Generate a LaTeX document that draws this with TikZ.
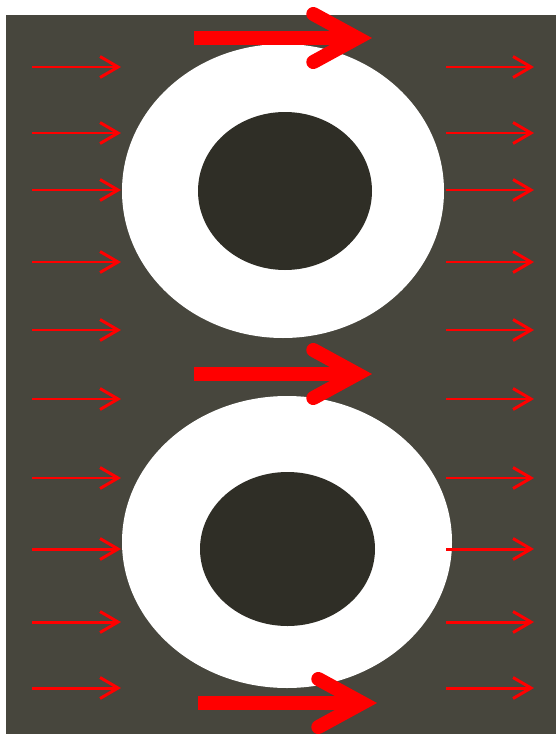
\documentclass[tikz,border=0pt]{standalone}
\usepackage{tikz}
\usetikzlibrary{arrows.meta}

\definecolor{flowbg}{RGB}{71,70,61}
\definecolor{coredark}{RGB}{47,46,38}

\begin{document}
\begin{tikzpicture}[x=0.02cm, y=-0.02cm,
    smallflow/.style={red, line width=1.7pt, -{Straight Barb[length=0.36cm, width=0.42cm]}},
    bigflow/.style={red, line width=8pt, -{Straight Barb[length=0.88cm, width=0.96cm, line cap=round, line join=miter]}}]
    \useasboundingbox (0,0) rectangle (556,734);

    % 背景
    \fill[flowbg] (6,15) rectangle (556,734);

    % 两个圆柱 (外圈白色, 内芯深色)
    \fill[white] (283,191) ellipse [x radius=161, y radius=147];
    \fill[coredark] (285,191) ellipse [x radius=87, y radius=79];
    \fill[white] (287,542) ellipse [x radius=165, y radius=146];
    \fill[coredark] (287.5,549) ellipse [x radius=87.5, y radius=77];

    % 两侧的来流箭头
    \foreach \y in {67,133,190,262,330,399,478,549,622,688} {
        \coordinate (inL\y) at (32,\y);
        \coordinate (outL\y) at (121,\y);
        \coordinate (inR\y) at (446,\y);
        \coordinate (outR\y) at (534,\y);
        \draw[smallflow] (inL\y) -- (outL\y);
        \draw[smallflow] (inR\y) -- (outR\y);
    }

    % 间隙中的粗箭头
    \coordinate (topA) at (194,38);
    \coordinate (topB) at (372,38);
    \coordinate (midA) at (194,374);
    \coordinate (midB) at (372,374);
    \coordinate (lowA) at (198,703);
    \coordinate (lowB) at (377,703);
    \draw[bigflow] (topA) -- (topB);
    \draw[bigflow] (midA) -- (midB);
    \draw[bigflow] (lowA) -- (lowB);

\end{tikzpicture}
\end{document}
